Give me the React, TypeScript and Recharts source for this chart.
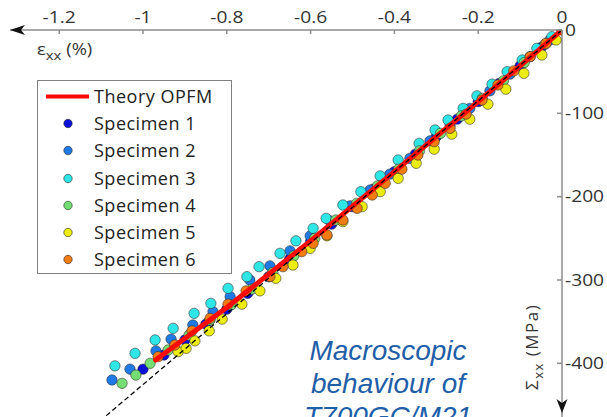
import React from 'react';
import { ComposedChart, Scatter, XAxis, YAxis, Legend, ReferenceDot } from 'recharts';

// ---------- axes ----------
const xTicks = [-1.2, -1, -0.8, -0.6, -0.4, -0.2, 0];
const yTicks = [0, -100, -200, -300, -400];
const xDomain = [-1.3174, 0];
const yDomain = [-464.4, 0];

// ---------- theory & linear reference ----------
const theoryStrain = [0, -0.2, -0.4, -0.6, -0.8, -0.97];
const theoryStress = [0, -86, -170, -253, -333, -396];
const linearStrain = [0, -1.1];
const linearStress = [0, -468];

// ---------- specimens ----------
const spec1Strain = [-1.0, -0.95, -0.9, -0.85, -0.8, -0.75, -0.7, -0.65, -0.6, -0.55, -0.5, -0.45, -0.4, -0.35, -0.3, -0.25, -0.2, -0.15, -0.1, -0.05];
const spec1Stress = [-407, -390, -372, -353, -335, -316, -296, -275, -254, -233, -212, -191, -170, -149, -128, -107, -86, -64, -43, -21];

const spec2Strain = [-1.074, -1.031, -0.969, -0.933, -0.881, -0.833, -0.792, -0.745, -0.697, -0.649, -0.601, -0.554, -0.506, -0.458, -0.411, -0.363, -0.315, -0.267, -0.22, -0.172, -0.124, -0.076, -0.029];
const spec2Stress = [-420, -407, -385, -371, -354, -338, -320, -300, -283, -265, -247, -229, -211, -192, -173, -154, -133, -114, -94, -73, -53, -32, -12];

const spec3Strain = [-1.067, -1.019, -0.971, -0.928, -0.878, -0.838, -0.797, -0.752, -0.723, -0.673, -0.635, -0.594, -0.563, -0.523, -0.48, -0.434, -0.391, -0.341, -0.303, -0.272, -0.236, -0.203, -0.167, -0.131, -0.095, -0.06, -0.024];
const spec3Stress = [-403, -388, -372, -358, -340, -328, -310, -296, -284, -268, -253, -238, -226, -210, -194, -175, -156, -136, -120, -108, -94, -79, -65, -50, -36, -22, -8];

const spec4Strain = [-1.05, -1.017, -0.983, -0.94, -0.89, -0.84, -0.79, -0.74, -0.69, -0.64, -0.59, -0.54, -0.49, -0.44, -0.39, -0.34, -0.29, -0.24, -0.19, -0.14, -0.09, -0.04];
const spec4Stress = [-424, -414, -400, -384, -366, -348, -330, -311, -291, -271, -250, -228, -208, -187, -167, -145, -124, -103, -82, -61, -39, -17];

const spec5Strain = [-0.916, -0.897, -0.876, -0.842, -0.811, -0.764, -0.721, -0.683, -0.642, -0.601, -0.561, -0.523, -0.477, -0.434, -0.391, -0.348, -0.305, -0.263, -0.22, -0.177, -0.134, -0.091, -0.048, -0.014];
const spec5Stress = [-386, -382, -373, -361, -347, -329, -313, -298, -282, -262, -247, -230, -212, -194, -178, -160, -143, -125, -107, -89, -71, -52, -30, -12];

const spec6Strain = [-0.964, -0.924, -0.883, -0.84, -0.797, -0.754, -0.697, -0.666, -0.621, -0.594, -0.561, -0.523, -0.489, -0.453, -0.422, -0.382, -0.344, -0.305, -0.267, -0.229, -0.191, -0.153, -0.115, -0.076, -0.038, 0];
const spec6Stress = [-392, -378, -361, -346, -329, -313, -296, -284, -266, -256, -246, -228, -214, -198, -184, -167, -150, -134, -118, -101, -84, -66, -49, -32, -16, 0];

const seriesNames = ['Specimen 1', 'Specimen 2', 'Specimen 3', 'Specimen 4', 'Specimen 5', 'Specimen 6'];
const seriesColors = ['#0a10d8', '#1f7ae6', '#2ee6e6', '#74de74', '#ecec10', '#f07c12'];
const theoryName = 'Theory OPFM';
const theoryColor = '#ff0a00';

const zip = (xs: number[], ys: number[]) => xs.map((x, i) => ({ x, y: ys[i] }));
const specData = [
  zip(spec1Strain, spec1Stress),
  zip(spec2Strain, spec2Stress),
  zip(spec3Strain, spec3Stress),
  zip(spec4Strain, spec4Stress),
  zip(spec5Strain, spec5Stress),
  zip(spec6Strain, spec6Stress),
];
const theoryData = zip(theoryStrain, theoryStress);
const linearData = zip(linearStrain, linearStress);

const FONT = '"Open Sans", "DejaVu Sans", sans-serif';
const AXIS = '#8c8c8c';
const TXT = '#333333';

const XTick = (props: any) => {
  const { x, y, payload } = props;
  return (
    <g>
      <line x1={x} x2={x} y1={y} y2={y + 4} stroke={AXIS} strokeWidth={1.5} />
      <text transform={`translate(${x},${y - 7}) scale(1.2,1)`} textAnchor="middle" fontSize={16} fill={TXT} fontFamily={FONT}>
        {String(payload.value)}
      </text>
    </g>
  );
};

const YTick = (props: any) => {
  const { x, y, payload } = props;
  return (
    <g>
      <line x1={x - 5} x2={x} y1={y} y2={y} stroke={AXIS} strokeWidth={1.5} />
      <text transform={`translate(${x + 3},${y + 5.5}) scale(1.2,1)`} textAnchor="start" fontSize={16} fill={TXT} fontFamily={FONT}>
        {String(payload.value)}
      </text>
    </g>
  );
};

const XLabel = () => (
  <text transform="translate(37,55) scale(1.15,1)" fontSize={16} fill={TXT} fontFamily={FONT}>
    ε<tspan fontSize={13} dy={5}>xx</tspan>
    <tspan fontSize={16} dy={-5}> (%)</tspan>
  </text>
);

const YLabel = () => (
  <text transform="translate(538,390) rotate(-90)" textAnchor="start" fontSize={17} fill={TXT} fontFamily={FONT} letterSpacing={1.5}>
    Σ<tspan fontSize={13} dy={5}>xx</tspan>
    <tspan fontSize={17} dy={-5}> (MPa)</tspan>
  </text>
);

const makeDot = (color: string) => (props: any) => (
  <circle cx={props.cx} cy={props.cy} r={5.2} fill={color} stroke="#2a2a2a" strokeOpacity={0.55} strokeWidth={1} />
);
const noDot = () => <g />;

const LegendBox = () => {
  const rows = [{ name: theoryName, color: theoryColor, line: true }].concat(
    seriesNames.map((n, i) => ({ name: n, color: seriesColors[i], line: false }))
  );
  return (
    <div
      style={{
        width: 195,
        height: 194,
        boxSizing: 'border-box',
        border: '1.3px solid #808080',
        background: '#fff',
        paddingTop: 1.5,
      }}
    >
      {rows.map((r) => (
        <div key={r.name} style={{ height: 27.3, display: 'flex', alignItems: 'center' }}>
          <svg width={56} height={27} style={{ display: 'block', flex: 'none' }}>
            {r.line ? (
              <line x1={8} x2={51} y1={13.5} y2={13.5} stroke={r.color} strokeWidth={4} />
            ) : (
              <circle cx={30} cy={13.5} r={4.2} fill={r.color} stroke="#2a2a2a" strokeOpacity={0.6} strokeWidth={1} />
            )}
          </svg>
          <span style={{ fontFamily: FONT, fontSize: 18, color: '#222', letterSpacing: 0.5, lineHeight: '27px', whiteSpace: 'nowrap' }}>
            {r.name}
          </span>
        </div>
      ))}
    </div>
  );
};

export default function App() {
  return (
    <div style={{ position: 'fixed', left: 0, top: 0, width: 607, height: 417, overflow: 'hidden', background: '#fff' }}>
      <ComposedChart width={607} height={417} margin={{ top: 0, right: 0, bottom: 0, left: 10 }}>
        <XAxis
          type="number"
          dataKey="x"
          orientation="top"
          height={30}
          domain={xDomain}
          allowDataOverflow
          ticks={xTicks}
          interval={0}
          tickSize={0}
          tickMargin={0}
          tickLine={false}
          tick={<XTick />}
          axisLine={{ stroke: AXIS, strokeWidth: 1.5 }}
          label={<XLabel />}
        />
        <YAxis
          type="number"
          dataKey="y"
          orientation="right"
          width={45}
          domain={yDomain}
          allowDataOverflow
          ticks={yTicks}
          interval={0}
          tickSize={0}
          tickMargin={0}
          tickLine={false}
          tick={<YTick />}
          axisLine={{ stroke: AXIS, strokeWidth: 1.5 }}
          label={<YLabel />}
        />
        {specData.map((d, i) => (
          <Scatter
            key={seriesNames[i]}
            name={seriesNames[i]}
            data={d}
            dataKey="y"
            fill={seriesColors[i]}
            shape={makeDot(seriesColors[i])}
            isAnimationActive={false}
          />
        ))}
        <Scatter
          name={theoryName}
          data={theoryData}
          dataKey="y"
          fill={theoryColor}
          shape={noDot}
          line={{ stroke: theoryColor, strokeWidth: 5, strokeLinecap: 'round', strokeLinejoin: 'round' }}
          lineType="joint"
          isAnimationActive={false}
        />
        <Scatter
          name="linear"
          data={linearData}
          dataKey="y"
          fill="#000"
          shape={noDot}
          line={{ stroke: '#000', strokeWidth: 1.3, strokeDasharray: '5 3' }}
          lineType="joint"
          legendType="none"
          isAnimationActive={false}
        />
        <ReferenceDot
          x={xDomain[0]}
          y={0}
          r={1}
          ifOverflow="visible"
          shape={(p: any) => (
            <polygon points={`${p.cx},${p.cy} ${p.cx + 15},${p.cy - 5} ${p.cx + 11},${p.cy} ${p.cx + 15},${p.cy + 5}`} fill="#111" />
          )}
        />
        <ReferenceDot
          x={0}
          y={-459.6}
          r={1}
          ifOverflow="visible"
          shape={(p: any) => (
            <polygon points={`${p.cx},${p.cy} ${p.cx - 5.5},${p.cy - 14} ${p.cx},${p.cy - 10} ${p.cx + 5.5},${p.cy - 14}`} fill="#111" />
          )}
        />
        <Legend
          layout="vertical"
          align="center"
          verticalAlign="middle"
          content={() => <LegendBox />}
          wrapperStyle={{ position: 'absolute', left: 37, top: 80, width: 195, height: 194, margin: 0, padding: 0 }}
        />
      </ComposedChart>
      <div
        style={{
          position: 'absolute',
          left: 288,
          top: 334,
          width: 200,
          textAlign: 'center',
          fontFamily: '"Liberation Sans", Arial, sans-serif',
          fontStyle: 'italic',
          fontSize: 28,
          lineHeight: '33px',
          color: '#1f5fa8',
        }}
      >
        Macroscopic
        <br />
        behaviour of
        <br />
        T700GC/M21
      </div>
    </div>
  );
}
